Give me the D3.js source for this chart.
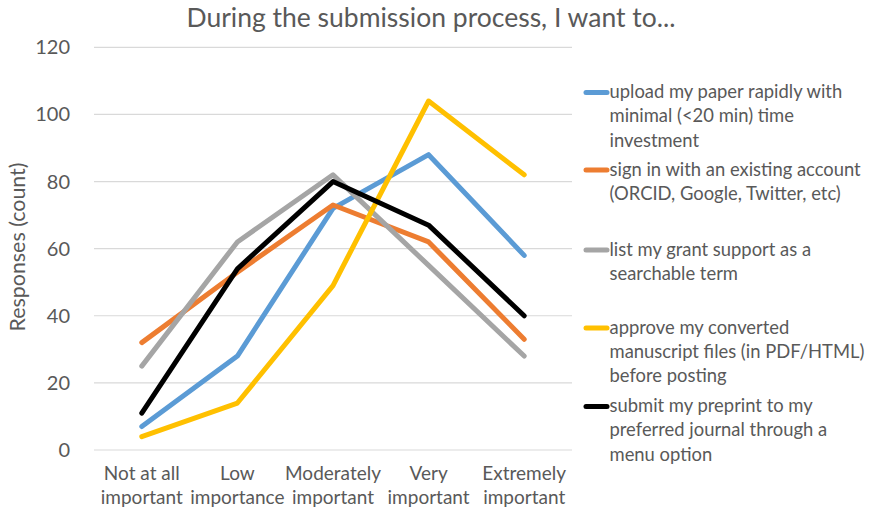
<!DOCTYPE html>
<html><head><meta charset="utf-8">
<script src="https://cdn.jsdelivr.net/npm/d3@7"></script>
<style>body{margin:0;background:#fff}svg{display:block}text{font-family:Lato,"Open Sans",sans-serif;fill:#595959}</style>
</head><body>
<svg id="c" width="874" height="517"></svg>
<script>
const categories = [["Not at all","important"],["Low","importance"],["Moderately","important"],["Very","important"],["Extremely","important"]];
const yTicks = [0,20,40,60,80,100,120];
const seriesNames = [
  ["upload my paper rapidly with","minimal (<20 min) time","investment"],
  ["sign in with an existing account","(ORCID, Google, Twitter, etc)"],
  ["list my grant support as a","searchable term"],
  ["approve my converted","manuscript files (in PDF/HTML)","before posting"],
  ["submit my preprint to my","preferred journal through a","menu option"]
];
const colors = ["#5B9BD5","#ED7D31","#A5A5A5","#FFC000","#000000"];
const uploadVals = [7,28,72,88,58];
const signinVals = [32,53,73,62,33];
const grantVals = [25,62,82,55,28];
const approveVals = [4,14,49,104,82];
const journalVals = [11,54,80,67,40];
const seriesVals = [uploadVals,signinVals,grantVals,approveVals,journalVals];
const title = "During the submission process, I want to...";
const yTitle = "Responses (count)";

const svg = d3.select("#c");
const L=94,R=572,T=47.3,B=450;
const x = d3.scaleBand().domain(d3.range(categories.length)).range([L,R]);
const y = d3.scaleLinear().domain([0,120]).range([B,T]);

svg.append("text").attr("x",431).attr("y",27).attr("text-anchor","middle").style("font-size","26.5px").text(title);

const g = svg.append("g");
g.selectAll("line.grid").data(yTicks).join("line").attr("class","grid")
 .attr("x1",L).attr("x2",R).attr("y1",d=>y(d)).attr("y2",d=>y(d))
 .attr("stroke","#D9D9D9").attr("stroke-width",1.2);
g.selectAll("text.yt").data(yTicks).join("text").attr("class","yt")
 .attr("x",70).attr("y",d=>y(d)+7).attr("text-anchor","end").style("font-size","20px").text(d=>d);

svg.append("text").attr("transform","translate(25,247) rotate(-90)").attr("text-anchor","middle").style("font-size","21.4px").text(yTitle);

categories.forEach((c,i)=>{
  const t = svg.append("text").attr("text-anchor","middle").style("font-size","19px");
  c.forEach((s,j)=>t.append("tspan").attr("x",x(i)+x.bandwidth()/2).attr("y",480+j*23.5).text(s));
});

const line = d3.line().x((d,i)=>x(i)+x.bandwidth()/2).y(d=>y(d));
seriesVals.forEach((v,k)=>{
  svg.append("path").attr("d",line(v)).attr("fill","none").attr("stroke",colors[k])
   .attr("stroke-width",5).attr("stroke-linecap","round").attr("stroke-linejoin","round");
});

const legY = [92.5,170,250,328,406.5];
seriesNames.forEach((lines,k)=>{
  svg.append("line").attr("x1",586).attr("x2",607).attr("y1",legY[k]).attr("y2",legY[k])
   .attr("stroke",colors[k]).attr("stroke-width",5).attr("stroke-linecap","round");
  const t = svg.append("text").style("font-size","18.4px");
  lines.forEach((s,j)=>t.append("tspan").attr("x",609.5).attr("y",legY[k]+5.5+j*24.3).text(s));
});
</script>
</body></html>
